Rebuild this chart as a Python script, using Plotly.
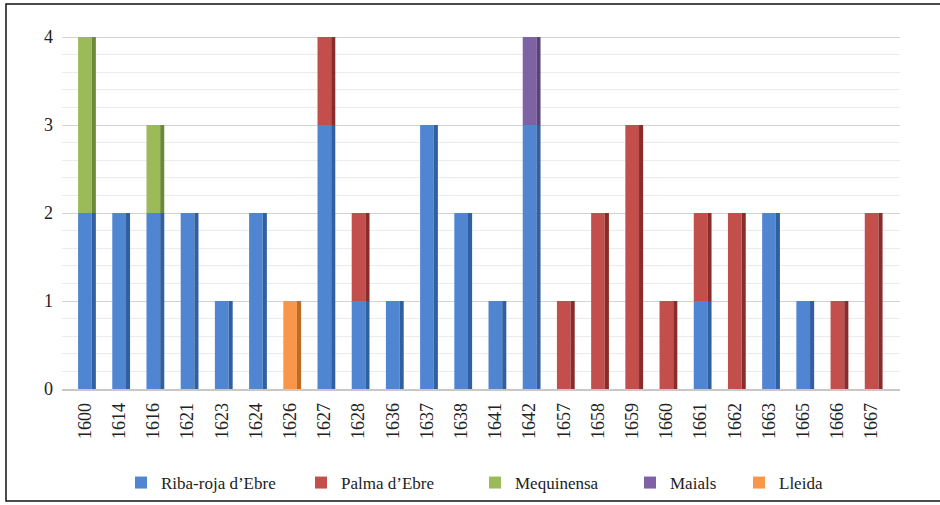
import numpy as np
import plotly.graph_objects as go

years = ["1600", "1614", "1616", "1621", "1623", "1624", "1626", "1627", "1628", "1636",
         "1637", "1638", "1641", "1642", "1657", "1658", "1659", "1660", "1661", "1662",
         "1663", "1665", "1666", "1667"]
riba_roja = [2, 2, 2, 2, 1, 2, 0, 3, 1, 1, 3, 2, 1, 3, 0, 0, 0, 0, 1, 0, 2, 1, 0, 0]
palma = [0, 0, 0, 0, 0, 0, 0, 1, 1, 0, 0, 0, 0, 0, 1, 2, 3, 1, 1, 2, 0, 0, 1, 2]
mequinensa = [2, 0, 1, 0, 0, 0, 0, 0, 0, 0, 0, 0, 0, 0, 0, 0, 0, 0, 0, 0, 0, 0, 0, 0]
maials = [0, 0, 0, 0, 0, 0, 0, 0, 0, 0, 0, 0, 0, 1, 0, 0, 0, 0, 0, 0, 0, 0, 0, 0]
lleida = [0, 0, 0, 0, 0, 0, 1, 0, 0, 0, 0, 0, 0, 0, 0, 0, 0, 0, 0, 0, 0, 0, 0, 0]

series = [
    ("Riba-roja d’Ebre", riba_roja, "#4F85D1", "#30609F"),
    ("Palma d’Ebre", palma, "#C24F4C", "#8A2C2A"),
    ("Mequinensa", mequinensa, "#9BBB59", "#6C8A35"),
    ("Maials", maials, "#7F62A6", "#574279"),
    ("Lleida", lleida, "#F8964A", "#BF6A25"),
]

W, H = 940, 505
L, R, T, B = 62, 40, 30, 116
pw = W - L - R
ph = H - T - B
def px_x(p):
    return (p - L) / pw
def px_y(p):
    return (H - B - p) / ph

FONT = "Liberation Serif, DejaVu Serif, Times New Roman, serif"

fig = go.Figure()
base = np.zeros(len(years))
legend_ids = ["legend", "legend2", "legend3", "legend4", "legend5"]
for i, (name, vals, face, side) in enumerate(series):
    v = np.array(vals, dtype=float)
    fig.add_trace(go.Bar(
        x=years, y=v, base=base.copy(), name=name,
        width=0.4, offset=-0.2,
        marker=dict(color=face, line=dict(width=0)),
        legend=legend_ids[i],
    ))
    fig.add_trace(go.Bar(
        x=years, y=v, base=base.copy(), name=name,
        width=0.12, offset=0.2,
        marker=dict(color=side, line=dict(width=0)),
        showlegend=False, hoverinfo="skip",
    ))
    base = base + v

legend_text_px = [159, 339, 513, 668, 777]
layout_legends = {}
for i, lid in enumerate(legend_ids):
    layout_legends[lid] = dict(
        xref="container", yref="container",
        x=(legend_text_px[i] - 38) / W, y=1 - 483 / H,
        xanchor="left", yanchor="middle", orientation="h",
        font=dict(family=FONT, size=17, color="#222"),
        bgcolor="rgba(0,0,0,0)",
    )

fig.update_layout(
    width=W, height=H,
    margin=dict(l=L, r=R, t=T, b=B, autoexpand=False),
    barmode="overlay",
    paper_bgcolor="white", plot_bgcolor="white",
    showlegend=True,
    **layout_legends,
    xaxis=dict(
        type="category", range=[-0.67, 23.83],
        tickangle=-90, showgrid=False,
        tickfont=dict(family=FONT, size=18, color="#222"),
        showline=True, linecolor="#c8c8c8", linewidth=1.5,
        ticks="", ticklabelstandoff=5, fixedrange=True, automargin=False,
    ),
    yaxis=dict(
        range=[0, 4.08], dtick=1, tick0=0,
        tickfont=dict(family=FONT, size=18, color="#222"),
        showgrid=True, gridcolor="#d4d4d4", gridwidth=1.3,
        minor=dict(dtick=0.2, showgrid=True, gridcolor="#ebebeb", gridwidth=1),
        zeroline=False, ticks="", ticklabelstandoff=8,
        fixedrange=True, automargin=False,
    ),
    shapes=[dict(
        type="rect", xref="paper", yref="paper",
        x0=px_x(6), x1=px_x(950), y0=px_y(501), y1=px_y(4),
        line=dict(color="#111", width=1.5), fillcolor="rgba(0,0,0,0)", layer="below",
    )],
)

fig.write_html(
    "out.html",
    config={"displayModeBar": False},
    post_script="document.body.style.margin='0';document.body.style.overflow='hidden';",
)
